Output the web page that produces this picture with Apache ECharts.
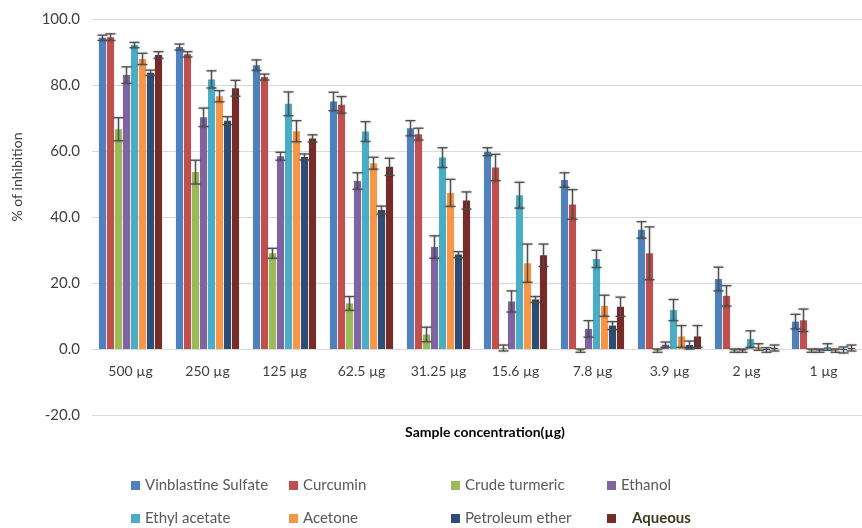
<!DOCTYPE html>
<html>
<head>
<meta charset="utf-8">
<script src="https://cdn.jsdelivr.net/npm/echarts@6/dist/echarts.min.js"></script>
<style>
  html, body { margin: 0; padding: 0; background: #fff; }
  #chart { width: 862px; height: 528px; }
</style>
</head>
<body>
<div id="chart"></div>
<script>
// 数据
var categories = ['500 µg', '250 µg', '125 µg', '62.5 µg', '31.25 µg', '15.6 µg', '7.8 µg', '3.9 µg', '2 µg', '1 µg'];
var seriesNames = ['Vinblastine Sulfate', 'Curcumin', 'Crude turmeric', 'Ethanol', 'Ethyl acetate', 'Acetone', 'Petroleum ether', 'Aqueous'];
var yTicks = [-20, 0, 20, 40, 60, 80, 100];

var vinblastine = [94.3, 91.5, 86.0, 75.0, 66.9, 59.8, 51.2, 36.1, 21.2, 8.3];
var vinblastineErr = [0.8, 0.9, 1.6, 2.8, 2.3, 1.2, 2.2, 2.5, 3.6, 2.2];
var curcumin = [94.5, 89.3, 82.4, 74.0, 65.1, 55.0, 43.8, 29.0, 16.1, 8.7];
var curcuminErr = [1.0, 0.8, 0.9, 2.5, 1.8, 4.0, 4.5, 8.0, 3.1, 3.4];
var crude = [66.6, 53.6, 29.0, 13.8, 4.4, 0.3, -0.5, -0.5, -0.5, -0.5];
var crudeErr = [3.5, 3.6, 1.5, 2.1, 2.2, 0.9, 0.5, 0.5, 0.5, 0.5];
var ethanol = [83.0, 70.2, 58.4, 50.9, 30.9, 14.4, 6.1, 1.3, -0.5, -0.5];
var ethanolErr = [2.5, 2.8, 1.2, 2.5, 3.4, 3.2, 2.5, 0.8, 0.5, 0.5];
var ethylAcetate = [92.1, 81.7, 74.3, 65.9, 58.0, 46.6, 27.3, 11.8, 3.0, 0.6];
var ethylAcetateErr = [0.8, 2.6, 3.6, 3.0, 3.0, 3.9, 2.6, 3.2, 2.5, 1.0];
var acetone = [87.9, 76.6, 66.0, 56.3, 47.3, 26.0, 13.1, 3.8, 0.6, -0.5];
var acetoneErr = [1.7, 1.7, 3.2, 1.8, 4.1, 5.8, 3.2, 3.3, 1.0, 0.5];
var petEther = [83.7, 69.2, 58.2, 42.1, 28.6, 15.0, 7.1, 1.2, -0.3, -0.3];
var petEtherErr = [0.8, 1.2, 0.9, 1.2, 0.9, 0.9, 1.2, 1.2, 0.7, 0.9];
var aqueous = [89.1, 79.0, 63.8, 55.2, 45.0, 28.4, 12.8, 3.8, 0.3, 0.3];
var aqueousErr = [1.0, 2.4, 1.1, 2.6, 2.6, 3.4, 2.9, 3.3, 0.9, 0.9];

var values = [vinblastine, curcumin, crude, ethanol, ethylAcetate, acetone, petEther, aqueous];
var errors = [vinblastineErr, curcuminErr, crudeErr, ethanolErr, ethylAcetateErr, acetoneErr, petEtherErr, aqueousErr];
var colors = ['#4F81BD', '#C0504D', '#9BBB59', '#8064A2', '#4BACC6', '#F79646', '#2C4D75', '#772C2A'];

var CAT_GAP = 0.18, BAR_GAP = 0.12;
var FONT = 'Lato, "Noto Sans", sans-serif';

// 误差线数据 [类别, 系列, 值, 误差]
var errData = [];
for (var s = 0; s < values.length; s++) {
    for (var c = 0; c < categories.length; c++) {
        errData.push([c, s, values[s][c], errors[s][c]]);
    }
}

function renderErr(params, api) {
    var cat = api.value(0), idx = api.value(1), v = api.value(2), e = api.value(3);
    var n = seriesNames.length;
    var bw = api.size([1, 0])[0];
    var usable = bw * (1 - CAT_GAP);
    var w = usable / (n + (n - 1) * BAR_GAP);
    var x = api.coord([cat, 0])[0] - usable / 2 + idx * w * (1 + BAR_GAP) + w / 2;
    var yHi = api.coord([cat, v + e])[1];
    var yLo = api.coord([cat, v - e])[1];
    var half = 5;
    var style = { stroke: '#505050', lineWidth: 1.3, shadowBlur: 2, shadowColor: 'rgba(0,0,0,0.35)' };
    return {
        type: 'group',
        children: [
            { type: 'line', shape: { x1: x, y1: yHi, x2: x, y2: yLo }, style: style },
            { type: 'line', shape: { x1: x - half, y1: yHi, x2: x + half, y2: yHi }, style: style },
            { type: 'line', shape: { x1: x - half, y1: yLo, x2: x + half, y2: yLo }, style: style }
        ]
    };
}

var series = [];
for (var i = 0; i < seriesNames.length; i++) {
    series.push({
        name: seriesNames[i],
        type: 'bar',
        barGap: (BAR_GAP * 100) + '%',
        barCategoryGap: (CAT_GAP * 100) + '%',
        itemStyle: { color: colors[i] },
        data: values[i]
    });
}
series.push({
    type: 'custom',
    renderItem: renderErr,
    encode: { x: 0, y: 2 },
    clip: false,
    z: 5,
    data: errData
});

// 图例分四列
var legendCols = [[0, 4], [1, 5], [2, 6], [3, 7]];
var legendLeft = [131, 289, 451, 607];
var legends = legendCols.map(function (col, k) {
    return {
        orient: 'vertical',
        left: legendLeft[k],
        top: 477,
        height: 60,
        padding: 0,
        itemWidth: 9,
        itemHeight: 9,
        itemGap: 16,
        icon: 'rect',
        selectedMode: false,
        textStyle: { fontFamily: FONT, fontSize: 15, color: '#595959', lineHeight: 17 },
        formatter: function (name) {
            return name === 'Aqueous' ? '   ' + name : name;
        },
        data: col.map(function (j) {
            if (seriesNames[j] === 'Aqueous') {
                return { name: seriesNames[j], textStyle: { fontWeight: 'bold', color: '#3f3a1c', fontSize: 15 } };
            }
            return seriesNames[j];
        })
    };
});

var myChart = echarts.init(document.getElementById('chart'));
var option = {
    animation: false,
    backgroundColor: '#fff',
    grid: { left: 92, right: -10, top: 19, bottom: 113 },
    legend: legends,
    xAxis: {
        type: 'category',
        data: categories,
        position: 'bottom',
        offset: -66,
        axisLine: { onZero: false, lineStyle: { color: '#d9d9d9', width: 1 } },
        axisTick: { show: false },
        axisLabel: { interval: 0, margin: 15, fontFamily: FONT, fontSize: 14, color: '#404040' }
    },
    yAxis: {
        type: 'value',
        min: yTicks[0],
        max: yTicks[yTicks.length - 1],
        interval: 20,
        axisLine: { show: false },
        axisTick: { show: false },
        splitLine: { lineStyle: { color: '#d9d9d9', width: 1 } },
        axisLabel: {
            margin: 12,
            fontFamily: FONT,
            fontSize: 15,
            color: '#404040',
            formatter: function (v) { return v.toFixed(1); }
        }
    },
    graphic: [
        {
            type: 'text',
            x: 17, y: 177,
            rotation: Math.PI / 2,
            style: { text: '% of inhibition', fontFamily: FONT, fontSize: 14, fill: '#404040', align: 'center', verticalAlign: 'middle' }
        },
        {
            type: 'text',
            x: 485, y: 432,
            style: { text: 'Sample concentration(µg)', fontFamily: FONT, fontSize: 14, fontWeight: 'bold', fill: '#000', align: 'center', verticalAlign: 'middle' }
        }
    ],
    series: series
};
myChart.setOption(option);
</script>
</body>
</html>
